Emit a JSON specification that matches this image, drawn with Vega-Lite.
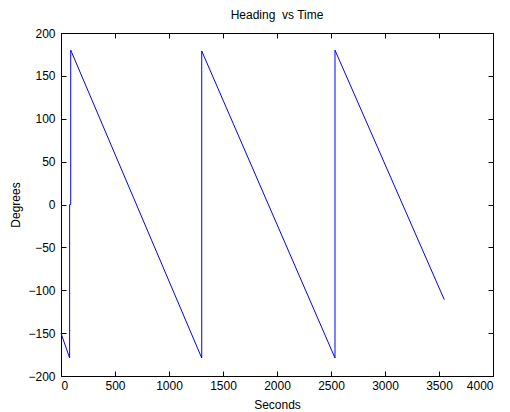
{
  "$schema": "https://vega.github.io/schema/vega-lite/v6.json",
  "width": 432,
  "height": 343,
  "autosize": {"type": "none"},
  "padding": {"left": 61, "top": 33, "right": 17, "bottom": 36},
  "background": "white",
  "title": {"text": "Heading\u00a0 vs Time", "fontSize": 12, "fontWeight": "normal", "font": "Liberation Sans", "color": "black", "offset": 5},
  "config": {
    "view": {"stroke": "black", "strokeWidth": 1},
    "axis": {"labelFont": "Liberation Sans", "titleFont": "Liberation Sans", "labelFontSize": 12, "titleFontSize": 12, "titleFontWeight": "normal", "labelColor": "black", "titleColor": "black", "grid": false, "domain": false, "tickColor": "black", "tickSize": -5, "labelPadding": 9}
  },
  "data": {"values": [
    {"i": 0, "t": 0, "heading": -150},
    {"i": 1, "t": 80, "heading": -179},
    {"i": 2, "t": 80, "heading": 0},
    {"i": 3, "t": 90, "heading": 0},
    {"i": 4, "t": 90, "heading": 180},
    {"i": 5, "t": 1303, "heading": -179},
    {"i": 6, "t": 1303, "heading": 179},
    {"i": 7, "t": 2537, "heading": -179},
    {"i": 8, "t": 2537, "heading": 180},
    {"i": 9, "t": 3549, "heading": -111}
  ]},
  "layer": [
    {
      "mark": {"type": "line", "color": "#0000ff", "strokeWidth": 1},
      "encoding": {
        "x": {"field": "t", "type": "quantitative", "scale": {"domain": [0, 4000], "nice": false, "zero": false}, "axis": {"title": "Seconds", "format": "d", "values": [0,500,1000,1500,2000,2500,3000,3500,4000], "titleY": 28, "titleBaseline": "middle"}},
        "y": {"field": "heading", "type": "quantitative", "scale": {"domain": [-200, 200], "nice": false, "zero": false}, "axis": {"title": "Degrees", "format": "d", "values": [-200,-150,-100,-50,0,50,100,150,200], "titleX": -46, "titleBaseline": "middle", "labelPadding": 11}},
        "order": {"field": "i", "type": "quantitative"}
      }
    },
    {
      "mark": {"type": "line", "strokeOpacity": 0},
      "encoding": {
        "x": {"field": "t", "type": "quantitative", "axis": {"orient": "top", "title": null, "labels": false, "values": [0,500,1000,1500,2000,2500,3000,3500,4000]}},
        "y": {"field": "heading", "type": "quantitative", "axis": {"orient": "right", "title": null, "labels": false, "values": [-200,-150,-100,-50,0,50,100,150,200]}},
        "order": {"field": "i", "type": "quantitative"}
      }
    }
  ],
  "resolve": {"axis": {"x": "independent", "y": "independent"}}
}
